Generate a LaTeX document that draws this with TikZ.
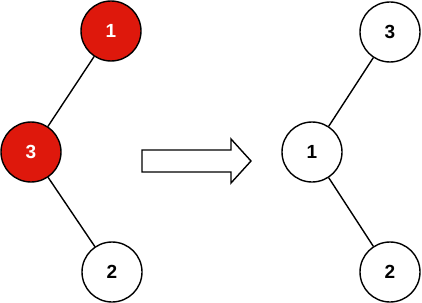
\documentclass[tikz,border=0pt]{standalone}
\usepackage{fontspec}
\setmainfont{Liberation Sans}
\definecolor{nodered}{RGB}{222,24,12}
\begin{document}
\begin{tikzpicture}[x=1pt,y=-1pt,
  tnode/.style={circle,draw=black,line width=1.4pt,minimum size=60pt,inner sep=0pt,font=\fontsize{19}{21}\selectfont\bfseries},
  rednode/.style={tnode,fill=nodered,text=white},
  whitenode/.style={tnode,fill=white,text=black},
  edge/.style={line width=1.4pt}]
\useasboundingbox (0,0) rectangle (422,302);
\node[rednode] (a1) at (111,31) {1};
\node[rednode] (a3) at (31,152) {3};
\node[whitenode] (a2) at (112,272) {2};
\draw[edge] (a1) -- (a3);
\draw[edge] (a3) -- (a2);
\node[whitenode] (b3) at (390,32) {3};
\node[whitenode] (b1) at (312,152) {1};
\node[whitenode] (b2) at (390,272) {2};
\draw[edge] (b3) -- (b1);
\draw[edge] (b1) -- (b2);
\draw[line width=1.4pt,fill=white,line join=miter] (142,150) -- (231,150) -- (231,139) -- (251,161) -- (231,183) -- (231,172) -- (142,172) -- cycle;
\end{tikzpicture}
\end{document}
